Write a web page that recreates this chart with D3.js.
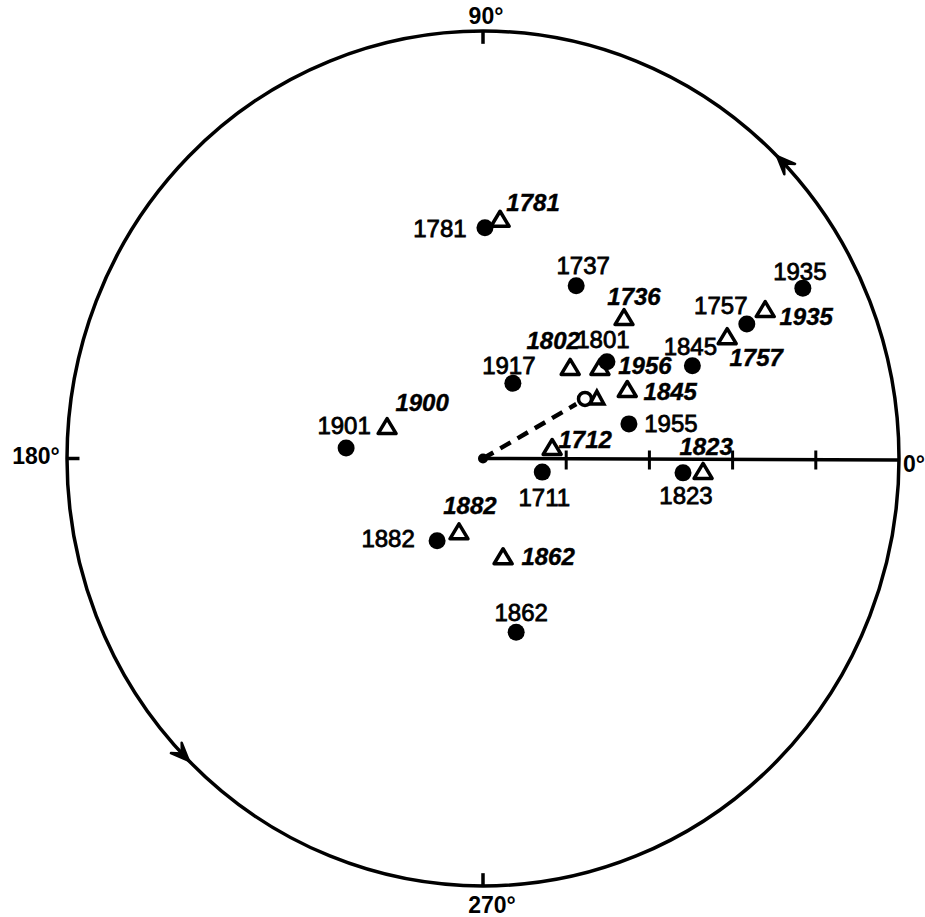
<!DOCTYPE html>
<html>
<head>
<meta charset="utf-8">
<script src="https://cdn.jsdelivr.net/npm/d3@7"></script>
<style>
  body { margin: 0; background: #fff; }
  svg { display: block; }
  .dotLabel { font-family: "Liberation Sans", Arial, sans-serif; font-size: 24px; stroke: #000; stroke-width: 0.8px; }
  .triLabel { font-family: "Liberation Sans", Arial, sans-serif; font-size: 24px; font-style: italic; font-weight: bold; stroke: #000; stroke-width: 0.4px; }
  .compass { font-family: "Liberation Sans", Arial, sans-serif; font-size: 23px; font-weight: bold; }
</style>
</head>
<body>
<div id="chart"></div>
<script>
// Setup SVG
var svgWidth = 925;
var svgHeight = 917;

// Filled dots (upright labels)
var dotYears = ['1781', '1737', '1935', '1757', '1845', '1917', '1955', '1901', '1711', '1823', '1882', '1862', '1801'];
var dotAngles = [89.5, 61.0, 27.4, 26.4, 23.3, 67.8, 13.0, 175.7, 347.4, 356.0, 240.2, 281.1, 37.2];
var dotMags = [2.70, 2.31, 4.33, 3.54, 2.74, 0.95, 1.80, 1.65, 0.73, 2.41, 1.11, 2.07, 1.87];

// Open triangles (italic labels)
var triYears = ['1781', '1736', '1935', '1757', '1802', '1956', '1845', '1900', '1712', '1823', '1882', '1862'];
var triAngles = [85.8, 44.1, 27.1, 25.8, 45.3, 37.0, 24.8, 162.3, 8.4, 356.6, 251.5, 281.8];
var triMags = [2.80, 2.36, 3.81, 3.26, 1.49, 1.76, 1.91, 1.21, 0.84, 2.65, 0.91, 1.18];

// Mean vectors
var meanDotAngle = 29.6, meanDotMag = 1.41;
var meanTriAngle = 27.3, meanTriMag = 1.54;

// Axis
var radialTicks = [1, 2, 3, 4];
var outerRadius = 5;
var compassLabels = ['0°', '90°', '180°', '270°'];

// label placement (pixels from the mark)
var dotLabelOffsets = [[-45, 1], [7, -20], [-3, -17], [-26, -18], [-2, -19], [-4, -18], [42, 0], [-2, -22], [2, 25], [3, 23], [-49, -2], [5, -20], [-4, -22]];
var triLabelOffsets = [[33, -17], [10, -22], [41, 6], [29, 20], [-17, -27], [45, -2], [43, 1], [35, -25], [33, -9], [3, -25], [11, -27], [45, -1]];

var svg = d3.select('#chart')
    .append('svg')
    .attr('width', svgWidth)
    .attr('height', svgHeight);

// scan is slightly stretched vertically, so x and y get their own scales
var xScale = d3.scaleLinear().domain([-outerRadius, outerRadius]).range([67, 899]);
var yScale = d3.scaleLinear().domain([-outerRadius, outerRadius]).range([886, 31]);

function px(angle, mag) {
    var a = angle * Math.PI / 180;
    return [xScale(mag * Math.cos(a)), yScale(mag * Math.sin(a))];
}

var cx = xScale(0), cy = yScale(0);
var rx = xScale(outerRadius) - cx, ry = cy - yScale(outerRadius);

// Outer circle
svg.append('ellipse')
    .attr('cx', cx).attr('cy', cy)
    .attr('rx', rx).attr('ry', ry)
    .attr('fill', 'none')
    .attr('stroke', '#000')
    .attr('stroke-width', 3.5);

// ticks at 90, 180, 270 pointing inward
[90, 180, 270].forEach(function(ang) {
    var p1 = px(ang, outerRadius);
    var p2 = px(ang, outerRadius - 0.15);
    svg.append('line')
        .attr('x1', p1[0]).attr('y1', p1[1])
        .attr('x2', p2[0]).attr('y2', p2[1])
        .attr('stroke', '#000').attr('stroke-width', 3.5);
});

// Radial axis along 0 degrees
svg.append('line')
    .attr('x1', cx).attr('y1', cy)
    .attr('x2', xScale(outerRadius)).attr('y2', cy + 1.5)
    .attr('stroke', '#000').attr('stroke-width', 3.5);
svg.selectAll('.rtick')
    .data(radialTicks)
    .enter()
    .append('line')
    .attr('x1', d => xScale(d)).attr('x2', d => xScale(d))
    .attr('y1', cy - 8).attr('y2', cy + 11)
    .attr('stroke', '#000').attr('stroke-width', 3);

// Compass labels
var compassPos = [[903, 464], [486, 16], [36, 456], [492, 905]];
var compassAnchor = ['start', 'middle', 'middle', 'middle'];
svg.selectAll('.compass')
    .data(compassLabels)
    .enter()
    .append('text')
    .classed('compass', true)
    .attr('x', (d, i) => compassPos[i][0])
    .attr('y', (d, i) => compassPos[i][1])
    .attr('text-anchor', (d, i) => compassAnchor[i])
    .attr('dominant-baseline', 'central')
    .text(d => d);

// Direction arrows on the circle (counter-clockwise)
[45, 225].forEach(function(ang) {
    var tip = px(ang, outerRadius);
    var a = ang * Math.PI / 180;
    var tx = -rx * Math.sin(a), ty = -ry * Math.cos(a);
    var len = Math.sqrt(tx * tx + ty * ty);
    tx /= len; ty /= len;
    var nx = -ty, ny = tx;
    var L = 18, W = 7.5;
    var b1 = [tip[0] - tx * L + nx * W, tip[1] - ty * L + ny * W];
    var b2 = [tip[0] - tx * L - nx * W, tip[1] - ty * L - ny * W];
    var m = [tip[0] - tx * 10, tip[1] - ty * 10];
    svg.append('path')
        .attr('d', 'M' + tip + 'L' + b1 + 'L' + m + 'L' + b2 + 'Z')
        .attr('fill', '#000')
        .attr('stroke', '#000')
        .attr('stroke-width', 2.5)
        .attr('stroke-linejoin', 'round');
});

// Dashed mean vector
var mEnd = px(meanDotAngle, meanDotMag - 0.12);
svg.append('line')
    .attr('x1', cx).attr('y1', cy)
    .attr('x2', mEnd[0]).attr('y2', mEnd[1])
    .attr('stroke', '#000')
    .attr('stroke-width', 4.5)
    .attr('stroke-dasharray', '12,8');
svg.append('circle')
    .attr('cx', cx).attr('cy', cy).attr('r', 5).attr('fill', '#000');

var mDot = px(meanDotAngle, meanDotMag);
svg.append('circle')
    .attr('cx', mDot[0]).attr('cy', mDot[1]).attr('r', 6.5)
    .attr('fill', 'none').attr('stroke', '#000').attr('stroke-width', 3.5);
var mTri = px(meanTriAngle, meanTriMag);
svg.append('path')
    .attr('transform', `translate(${mTri[0]}, ${mTri[1]})`)
    .attr('d', 'M0,-7L7,6L-7,6Z')
    .attr('fill', 'none').attr('stroke', '#000').attr('stroke-width', 3.5);

// Triangles
var triData = triYears.map((y, i) => ({year: y, p: px(triAngles[i], triMags[i]), off: triLabelOffsets[i]}));
svg.append('g').selectAll('path')
    .data(triData)
    .enter()
    .append('path')
    .attr('transform', d => `translate(${d.p[0]}, ${d.p[1]})`)
    .attr('d', 'M0,-8.5L9,6.5L-9,6.5Z')
    .attr('fill', '#fff')
    .attr('stroke', '#000')
    .attr('stroke-width', 3.5)
    .attr('stroke-linejoin', 'round');
svg.append('g').selectAll('text')
    .data(triData)
    .enter()
    .append('text')
    .classed('triLabel', true)
    .attr('x', d => d.p[0] + d.off[0])
    .attr('y', d => d.p[1] + d.off[1])
    .attr('text-anchor', 'middle')
    .attr('dominant-baseline', 'central')
    .text(d => d.year);

// Dots
var dotData = dotYears.map((y, i) => ({year: y, p: px(dotAngles[i], dotMags[i]), off: dotLabelOffsets[i]}));
svg.append('g').selectAll('circle')
    .data(dotData)
    .enter()
    .append('circle')
    .attr('cx', d => d.p[0])
    .attr('cy', d => d.p[1])
    .attr('r', 8.5)
    .attr('fill', '#000');
svg.append('g').selectAll('text')
    .data(dotData)
    .enter()
    .append('text')
    .classed('dotLabel', true)
    .attr('x', d => d.p[0] + d.off[0])
    .attr('y', d => d.p[1] + d.off[1])
    .attr('text-anchor', 'middle')
    .attr('dominant-baseline', 'central')
    .text(d => d.year);
</script>
</body>
</html>
